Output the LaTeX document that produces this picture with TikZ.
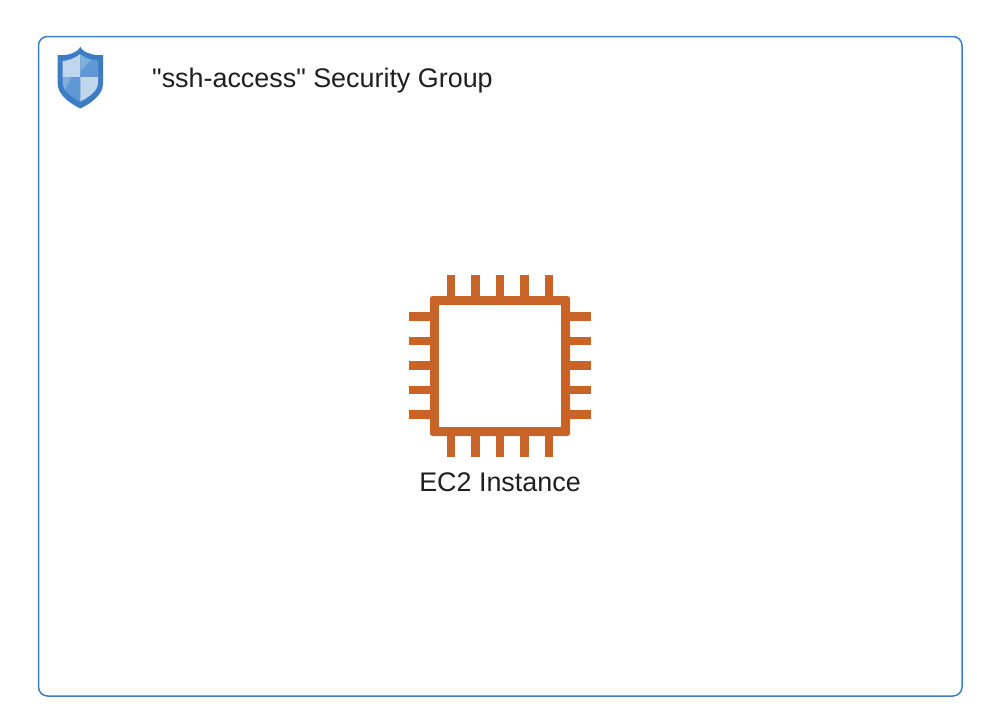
\documentclass[tikz,border=0pt]{standalone}
\usepackage{fontspec}
\setmainfont{Liberation Sans}[Ligatures=TeXOff]
\definecolor{groupblue}{HTML}{3F7FC4}
\definecolor{shielddark}{HTML}{3B7CC4}
\definecolor{shieldmid}{HTML}{7DB0DC}
\definecolor{shieldshade}{HTML}{5F98D4}
\definecolor{shieldlight}{HTML}{BFD6EC}
\definecolor{chiporange}{HTML}{C86427}
\definecolor{labelink}{HTML}{1F1F1F}
\tikzset{
	grouplabel/.style={anchor=west,inner sep=0pt,text=labelink,font=\fontsize{26.9}{30}\selectfont},
	chiplabel/.style={inner sep=0pt,text=labelink,font=\fontsize{26.9}{30}\selectfont},
	chippin/.style={line width=8.6pt,color=chiporange}
}
\begin{document}
\begin{tikzpicture}[x=1pt,y=-1pt]
	\useasboundingbox (0,0) rectangle (994,728);
	\draw[groupblue,line width=1.5pt,rounded corners=9pt] (38.5,36.5) rectangle (962,696);
	
	% shield
	\fill[shielddark] (80.3,46.5) .. controls (81.5,50) and (85,52) .. (88,53) .. controls (93,55) and (98,55.5) .. (103,55) -- (103,84) .. controls (103,95) and (90,104) .. (80.3,108.5) .. controls (71,104) and (57.7,95) .. (57.7,84) -- (57.7,55) .. controls (63,55.5) and (68,55) .. (73,53) .. controls (76,52) and (79,50) .. (80.3,46.5) -- cycle;
	\fill[shieldlight] (80.3,54) .. controls (75,58) and (69,60.5) .. (62.7,61) -- (62.7,77) -- (80.3,77) -- cycle;
	\fill[shieldmid] (80.3,54) .. controls (85,58) and (91,60.5) .. (98,61) -- (98,77) -- (80.3,77) -- cycle;
	\fill[shieldshade] (80.3,71.7) -- (91.7,59.2) .. controls (93.5,60) and (96,60.8) .. (98,61) -- (98,77) -- (80.3,77) -- cycle;
	\fill[shieldmid] (62.7,77) -- (80.3,77) -- (80.3,101.5) .. controls (72,97) and (62.7,91) .. (62.7,83) -- cycle;
	\fill[shieldshade] (71.7,77) -- (80.3,77) -- (80.3,101.5) .. controls (75,99) and (69,95) .. (65,90.5) -- cycle;
	\fill[shieldlight] (98,77) -- (80.3,77) -- (80.3,101.5) .. controls (89,97) and (98,91) .. (98,83) -- cycle;
	
	\node[grouplabel] (grouptitle) at (152,80.5) {"ssh-access" Security Group};
	
	% chip
	\foreach \p in {451,475.5,500,524.5,549}
	\draw[chippin] (\p,275)--(\p,300) (\p,431)--(\p,456.7);
	\foreach \p in {316.5,341,365.5,390,414.5}
	\draw[chippin] (409,\p)--(434,\p) (566,\p)--(590.7,\p);
	\fill[chiporange,rounded corners=2.5pt] (430,296) rectangle (570,436);
	\fill[white] (439,304.5) rectangle (561,427);
	
	\node[chiplabel] (chipname) at (500,482) {EC2 Instance};
\end{tikzpicture}
\end{document}
